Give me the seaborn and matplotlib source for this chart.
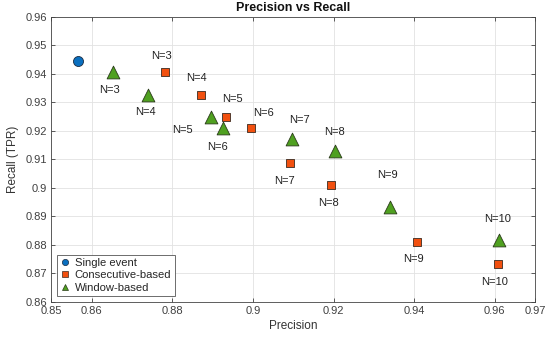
import matplotlib
matplotlib.use("Agg")
import matplotlib.pyplot as plt
import seaborn as sns
import pandas as pd
from matplotlib.lines import Line2D

# ---- data ----
single_precision = [0.8566]
single_recall = [0.9446]

consec_n = [3, 4, 5, 6, 7, 8, 9, 10]
consec_precision = [0.8782, 0.8872, 0.8932, 0.8994, 0.9091, 0.9193, 0.9408, 0.9607]
consec_recall = [0.9407, 0.9326, 0.9248, 0.9209, 0.9089, 0.9011, 0.8812, 0.8733]

window_n = [3, 4, 5, 6, 7, 8, 9, 10]
window_precision = [0.8653, 0.8740, 0.8897, 0.8926, 0.9098, 0.9203, 0.9339, 0.9610]
window_recall = [0.9408, 0.9327, 0.9248, 0.9210, 0.9172, 0.9131, 0.8932, 0.8816]

x_ticks = [0.85, 0.86, 0.88, 0.9, 0.92, 0.94, 0.96, 0.97]
x_ticklabels = ["0.85", "0.86", "0.88", "0.9", "0.92", "0.94", "0.96", "0.97"]
y_ticks = [0.86, 0.87, 0.88, 0.89, 0.9, 0.91, 0.92, 0.93, 0.94, 0.95, 0.96]
y_ticklabels = ["0.86", "0.87", "0.88", "0.89", "0.9", "0.91", "0.92", "0.93", "0.94", "0.95", "0.96"]

# label offsets (pixels)
consec_offsets = [(-4, 16), (-5, 17), (7, 18), (13, 15), (-5, -18), (-2, -18), (-4, -17), (-3, -18)]
window_offsets = [(-4, -18), (-3, -17), (-29, -13), (-6, -19), (7, 19), (0, 19), (-2, 32), (-1, 21)]

# ---- style ----
sns.set_theme(style="white")
plt.rcParams['font.family'] = ['Liberation Sans', 'DejaVu Sans']

c_blue = "#0A6FBF"
c_orange = "#F2500F"
c_green = "#4FA020"

fig = plt.figure(figsize=(5.5, 3.4), dpi=100)
ax = fig.add_axes([0.0936, 0.112, 0.8791, 0.838])

df_s = pd.DataFrame({"Precision": single_precision, "Recall": single_recall})
df_c = pd.DataFrame({"Precision": consec_precision, "Recall": consec_recall, "N": consec_n})
df_w = pd.DataFrame({"Precision": window_precision, "Recall": window_recall, "N": window_n})

sns.scatterplot(data=df_s, x="Precision", y="Recall", ax=ax, marker="o", s=52,
                color=c_blue, edgecolor="#1a2a40", linewidth=0.6, zorder=3)
sns.scatterplot(data=df_c, x="Precision", y="Recall", ax=ax, marker="s", s=40,
                color=c_orange, edgecolor="#3a2a20", linewidth=0.6, zorder=3)
sns.scatterplot(data=df_w, x="Precision", y="Recall", ax=ax, marker="^", s=85,
                color=c_green, edgecolor="#2a3a1a", linewidth=0.6, zorder=3)

for (x, y, n), off in zip(zip(consec_precision, consec_recall, consec_n), consec_offsets):
    ax.annotate(f"N={n}", (x, y), xytext=off, textcoords="offset pixels",
                ha="center", va="center", fontsize=8, color="#222222")
for (x, y, n), off in zip(zip(window_precision, window_recall, window_n), window_offsets):
    ax.annotate(f"N={n}", (x, y), xytext=off, textcoords="offset pixels",
                ha="center", va="center", fontsize=8, color="#222222")

ax.set_xlim(0.85, 0.97)
ax.set_ylim(0.86, 0.96)
ax.set_xticks(x_ticks)
ax.set_xticklabels(x_ticklabels)
ax.set_yticks(y_ticks)
ax.set_yticklabels(y_ticklabels)
ax.tick_params(axis="both", which="both", direction="in", length=3, width=0.6,
               labelsize=8, colors="#404040", top=True, right=True,
               bottom=True, left=True, labeltop=False, labelright=False, pad=3)
ax.grid(True, color="#e2e2e2", linewidth=0.6)
ax.set_axisbelow(True)
for sp in ax.spines.values():
    sp.set_visible(True)
    sp.set_color("#444444")
    sp.set_linewidth(0.6)

ax.set_xlabel("Precision", fontsize=8.5, color="#333333", labelpad=3)
ax.set_ylabel("Recall (TPR)", fontsize=8.5, color="#333333", labelpad=5)
ax.set_title("Precision vs Recall", fontsize=9, fontweight="bold", color="#111111", pad=4)

handles = [
    Line2D([], [], linestyle="none", marker="o", markersize=4.5, markerfacecolor=c_blue,
           markeredgecolor="#1a2a40", markeredgewidth=0.5),
    Line2D([], [], linestyle="none", marker="s", markersize=4, markerfacecolor=c_orange,
           markeredgecolor="#3a2a20", markeredgewidth=0.5),
    Line2D([], [], linestyle="none", marker="^", markersize=5, markerfacecolor=c_green,
           markeredgecolor="#2a3a1a", markeredgewidth=0.5),
]
leg = ax.legend(handles, ["Single event", "Consecutive-based", "Window-based"],
                loc="lower left", bbox_to_anchor=(0.0065, 0.012), fontsize=8.1,
                frameon=True, fancybox=False, borderpad=0.3, handlelength=0.8,
                handletextpad=0.5, labelspacing=0.22, borderaxespad=0.2)
leg.get_frame().set_edgecolor("#555555")
leg.get_frame().set_linewidth(0.6)
leg.get_frame().set_alpha(1)

fig.savefig("out.png", dpi=100)
